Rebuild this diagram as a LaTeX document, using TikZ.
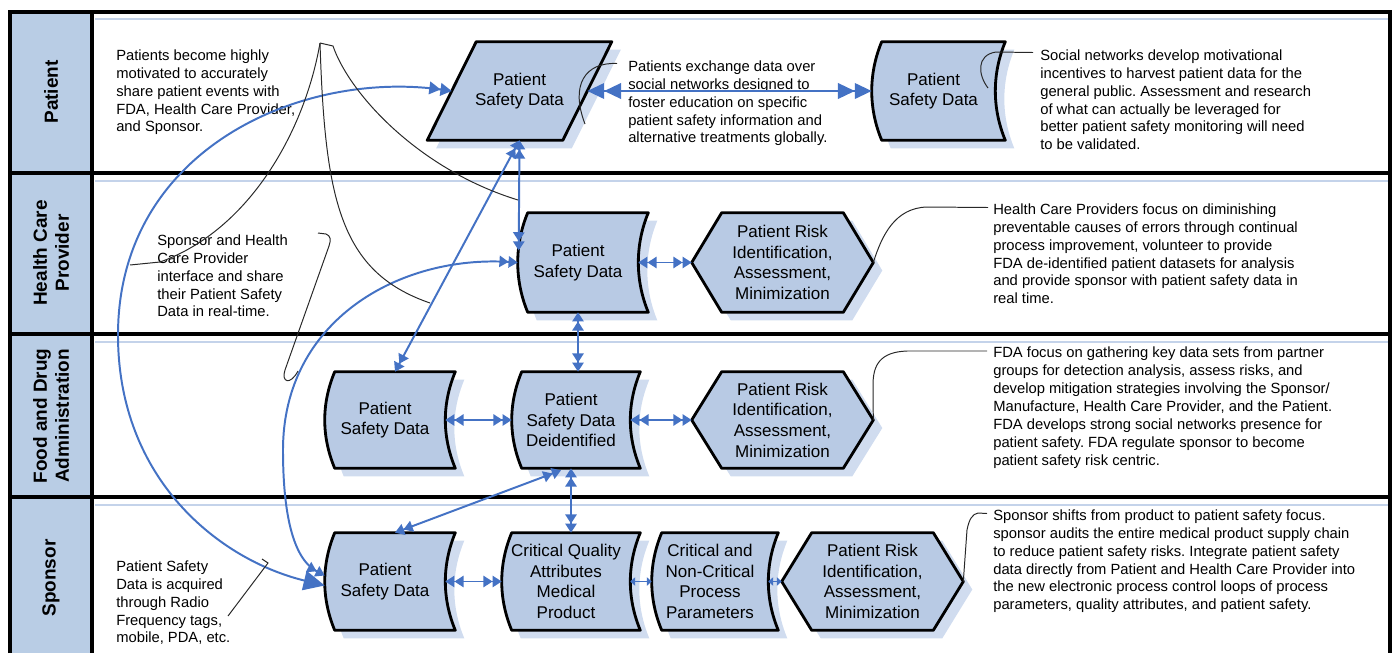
\documentclass[tikz,border=0pt]{standalone}
\usepackage{fontspec}
\setmainfont{Liberation Sans}
\frenchspacing
\usetikzlibrary{
    arrows.meta,
    calc,
    backgrounds,
    shadows
}
\definecolor{lanefill}{RGB}{185,205,229}
\definecolor{lanerule}{RGB}{196,211,234}
\definecolor{shapefill}{RGB}{184,202,228}
\definecolor{shadowblue}{RGB}{208,220,239}
\definecolor{flowblue}{RGB}{68,114,196}
\definecolor{leadergray}{RGB}{40,40,40}
\tikzset{
    % Lanes
    laneline/.style={draw=black, line width=2.6pt},
    lanerulestyle/.style={draw=lanerule, line width=1.6pt},
    lanelabel/.style={
        rotate=90,
        align=center,
        font=\fontsize{13.5}{15.6}\selectfont\bfseries
    },
    % Shape cores (outlines go on the background)
    boxcore/.style={
        rectangle,
        inner sep=0pt,
        align=center,
        font=\fontsize{12.1}{14.7}\selectfont
    },
    storecore/.style={boxcore, minimum width=3cm, minimum height=2.45cm},
    riskcore/.style={boxcore, minimum width=4.525cm, minimum height=2.475cm},
    boxline/.style={
        draw=black,
        line width=2pt,
        line join=round,
        fill=shapefill,
        drop shadow={shadow xshift=6.4pt, shadow yshift=-5.7pt, draw=none, fill=shadowblue, opacity=1}
    },
    % Notes
    note/.style={
        anchor=north west,
        align=left,
        inner sep=0pt,
        font=\fontsize{10.5}{12.7}\selectfont
    },
    % Arrows
    flow/.style={
        {Triangle[length=6.5pt,width=8pt]Triangle[length=6.5pt,width=8pt]}-{Triangle[length=6.5pt,width=8pt]Triangle[length=6.5pt,width=8pt]},
        line width=1.4pt,
        draw=flowblue
    },
    shortflow/.style={
        {Triangle[length=3.5pt,width=6pt]}-{Triangle[length=3.5pt,width=6pt]},
        line width=1.4pt,
        draw=flowblue
    },
    bigflow/.style={
        {Triangle[length=12pt,width=11pt]Triangle[length=12pt,width=11pt]}-{Triangle[length=12pt,width=11pt]Triangle[length=12pt,width=11pt]},
        line width=1.6pt,
        draw=flowblue
    },
    leader/.style={draw=leadergray, line width=0.7pt}
}

\begin{document}
\begin{tikzpicture}[x=0.025cm, y=-0.025cm]

    \useasboundingbox (0,0) rectangle (1396,653);

    % Lanes
    \begin{scope}[on background layer]
        \fill[lanefill] (10,12) rectangle (92,653);
        \foreach \y in {19,181,342,505}
            \draw[lanerulestyle] (95,\y) -- (1390,\y);
        \foreach \y in {173,334,497}
            \draw[laneline] (10,\y) -- (1390,\y);
        \draw[laneline] (10,653) -- (10,12) -- (1390,12) -- (1390,653);
        \draw[laneline] (92,12) -- (92,653);
    \end{scope}

    % Lane labels
    \node[lanelabel] (lanePat) at (51,92) {Patient};
    \node[lanelabel] (laneHcp) at (51,253) {Health Care\\Provider};
    \node[lanelabel] (laneFda) at (51,416) {Food and Drug\\Administration};
    \node[lanelabel] (laneSp) at (51,578) {Sponsor};

    % Patient lane
    \node[boxcore, minimum width=3.375cm, minimum height=2.45cm] (patData) at (519.5,91) {Patient\\Safety Data};
    \node[storecore, minimum width=3.075cm] (netData) at (933.5,91) {Patient\\Safety Data};

    % Health Care Provider lane
    \node[storecore, minimum height=2.475cm] (hcpData) at (578,262.5) {Patient\\Safety Data};
    \node[riskcore] (hcpRisk) at (782.5,262.5) {Patient Risk\\Identification,\\Assessment,\\Minimization};

    % Food and Drug Administration lane
    \node[storecore, minimum height=2.4cm] (fdaData) at (385,420) {Patient\\Safety Data};
    \node[storecore, minimum width=2.95cm, minimum height=2.4cm] (fdaDeid) at (571,420) {Patient\\Safety Data\\Deidentified};
    \node[riskcore, minimum height=2.4cm] (fdaRisk) at (782.5,420) {Patient Risk\\Identification,\\Assessment,\\Minimization};

    % Sponsor lane
    \node[storecore, minimum height=2.425cm] (spData) at (385,581.5) {Patient\\Safety Data};
    \node[storecore, minimum width=3.2cm, minimum height=2.425cm] (spCqa) at (566,581.5) {Critical Quality\\Attributes\\Medical\\Product};
    \node[storecore, minimum width=2.9cm, minimum height=2.425cm] (spCpp) at (710,581.5) {Critical and\\Non-Critical\\Process\\Parameters};
    \node[riskcore, minimum height=2.425cm] (spRisk) at (872.5,581.5) {Patient Risk\\Identification,\\Assessment,\\Minimization};

    % Shape outlines
    \begin{scope}[on background layer]
        \foreach \n in {netData,hcpData,fdaData,fdaDeid,spData,spCqa,spCpp}
            \path[boxline] ($(\n.north west)+(10,0)$) -- ($(\n.north east)+(10,0)$)
                .. controls ($(\n.north east)+(-3.3,32)$) and ($(\n.south east)+(-3.3,-32)$) .. ($(\n.south east)+(10,0)$)
                -- ($(\n.south west)+(10,0)$)
                .. controls ($(\n.south west)+(-3.3,-32)$) and ($(\n.north west)+(-3.3,32)$) .. ($(\n.north west)+(10,0)$) -- cycle;
        \foreach \n in {hcpRisk,fdaRisk,spRisk}
            \path[boxline] (\n.west) -- ($(\n.north west)+(30,0)$) -- ($(\n.north east)+(-30,0)$)
                -- (\n.east) -- ($(\n.south east)+(-30,0)$) -- ($(\n.south west)+(30,0)$) -- cycle;
        \path[boxline] ($(patData.north west)+(24.5,0)$) -- ($(patData.north east)+(24.5,0)$)
            -- ($(patData.south east)+(-24.5,0)$) -- ($(patData.south west)+(-24.5,0)$) -- cycle;
    \end{scope}

    % Notes
    \node[note] (patNote) at (116,49.5) {Patients become highly\\motivated to accurately\\share patient events with\\FDA, Health Care Provider,\\and Sponsor.};
    \node[note] (shareNote) at (157,234.5) {Sponsor and Health\\Care Provider\\interface and share\\their Patient Safety\\Data in real-time.};
    \node[note] (rfNote) at (116,560.5) {Patient Safety\\Data is acquired\\through Radio\\Frequency tags,\\mobile, PDA, etc.};
    \node[note] (exchNote) at (628,60.5) {Patients exchange data over\\social networks designed to\\foster education on specific\\patient safety information and\\alternative treatments globally.};
    \node[note] (netNote) at (1040,49.5) {Social networks develop motivational\\incentives to harvest patient data for the\\general public. Assessment and research\\of what can actually be leveraged for\\better patient safety monitoring will need\\to be validated.};
    \node[note] (hcpNote) at (993,203.5) {Health Care Providers focus on diminishing\\preventable causes of errors through continual\\process improvement, volunteer to provide\\FDA de-identified patient datasets for analysis\\and provide sponsor with patient safety data in\\real time.};
    \node[note] (fdaNote) at (993,347) {FDA focus on gathering key data sets from partner\\groups for detection analysis, assess risks, and\\develop mitigation strategies involving the Sponsor/\\Manufacture, Health Care Provider, and the Patient.\\FDA develops strong social networks presence for\\patient safety. FDA regulate sponsor to become\\patient safety risk centric.};
    \node[note] (spNote) at (993,509.5) {Sponsor shifts from product to patient safety focus.\\sponsor audits the entire medical product supply chain\\to reduce patient safety risks. Integrate patient safety\\data directly from Patient and Health Care Provider into\\the new electronic process control loops of process\\parameters, quality attributes, and patient safety.};

    % Arrows - data exchange
    \draw[bigflow] (patData.east) -- (netData.west);
    \draw[flow] (patData.south) -- ($(hcpData.west)+(1,-12)$);
    \draw[flow] (patData.south) -- ($(fdaData.north)+(10,0)$);
    \draw[flow] (hcpData.east) -- (hcpRisk.west);
    \draw[flow] (hcpData.south) -- (hcpData.south |- fdaDeid.north);
    \draw[flow] (fdaData.east) -- (fdaDeid.west);
    \draw[flow] (fdaDeid.east) -- (fdaRisk.west);
    \draw[flow] (fdaDeid.south) -- (fdaDeid.south |- spCqa.north);
    \draw[flow] ($(fdaDeid.south)+(-10,2)$) -- ($(spData.north)+(10,0)$);
    \draw[flow] (spData.east) -- (spCqa.west);
    \draw[shortflow] (spCqa.east) -- (spCpp.west);
    \draw[shortflow] (spCpp.east) -- (spRisk.west);

    % Long curves into the sponsor
    \draw[flow, {Triangle[length=8pt,width=9pt]Triangle[length=8pt,width=9pt]}-{Triangle[length=15pt,width=14pt]}]
        (patData.west) .. controls (300,70) and (118,150) .. (118,335)
        .. controls (118,480) and (220,560) .. ($(spData.west)+(0,4)$);
    \draw[flow] (hcpData.west) .. controls (400,255) and (283,320) .. (283,450)
        .. controls (283,520) and (295,560) .. ($(spData.west)+(0,-6)$);

    % Callout leaders
    \coordinate (patBrace) at (320,43);
    \coordinate (leadA) at (518,200);
    \coordinate (leadB) at (430,303);
    \coordinate (leadC) at (130,265);
    \draw[leader] (patBrace) -- (333,46) .. controls (350,95) and (420,170) .. (leadA);
    \draw[leader] (patBrace) .. controls (325,200) and (340,272) .. (leadB);
    \draw[leader] (patBrace) .. controls (305,130) and (250,230) .. (160,262) -- (leadC);

    \coordinate (shareBrace) at (318,233);
    \coordinate (leadD) at (298,371);
    \draw[leader] (shareBrace) -- (326,234) .. controls (331,236) and (331,240) .. (329,246)
        -- (285,370) .. controls (281,382) and (290,386) .. (leadD);

    \coordinate (rfBrace) at (228,616);
    \coordinate (leadE) at (262,559);
    \draw[leader] (rfBrace) -- (268,563) -- (leadE);

    \draw[leader] ($(exchNote.north west)+(-11,3)$) .. controls (585,62) and (570,85) .. (585,124);
    \draw[leader] ($(netNote.north west)+(-7,3)$) -- (996,52) .. controls (976,55) and (978,75) .. (988,88);
    \draw[leader] ($(hcpNote.north west)+(-5,4)$) -- (927,207) .. controls (895,208) and (882,235) .. (hcpRisk.east);
    \draw[leader] ($(fdaNote.north west)+(-6,4)$) -- (907,351) .. controls (880,352) and (873,365) .. (873,385) -- (fdaRisk.east);
    \draw[leader] ($(spNote.north west)+(-6,4)$) -- (978,513) .. controls (972,514) and (969,520) .. (967,530) -- (spRisk.east);

\end{tikzpicture}
\end{document}
